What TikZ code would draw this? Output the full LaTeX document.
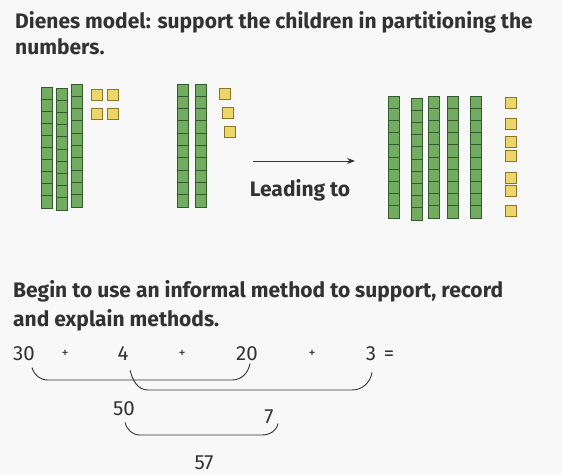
\documentclass[tikz,border=0pt]{standalone}
\usepackage{fontspec}
\setmainfont{Fira Sans}
\usetikzlibrary{arrows.meta}

\definecolor{paper}{RGB}{248,248,248}
\definecolor{ink}{RGB}{50,50,50}
\definecolor{rodfill}{RGB}{114,172,96}
\definecolor{rodline}{RGB}{52,90,46}
\definecolor{cubefill}{RGB}{236,214,104}
\definecolor{cubeline}{RGB}{138,118,38}

\tikzset{
  rodcell/.style={draw=rodline, fill=rodfill, line width=1pt},
  cube/.style={draw=cubeline, fill=cubefill, line width=1pt},
  heading/.style={anchor=base west, inner sep=0pt, text=ink,
    font=\bfseries\fontsize{21}{24}\selectfont},
  sum/.style={anchor=base, inner sep=0pt, text=ink,
    font=\fontsize{20.5}{24}\selectfont},
  plus/.style={sum, font=\fontsize{14}{16}\selectfont},
  bracket/.style={draw=ink, line width=0.9pt},
}

% a ten rod: left x, top y, bottom y
\newcommand{\tenrod}[3]{%
  \foreach \k in {0,...,9}
    \draw[rodcell] (#1,{#2+(#3-#2)*\k/10}) rectangle ({#1+11},{#2+(#3-#2)*(\k+1)/10});
}
% a unit cube: left x, top y
\newcommand{\unitcube}[2]{\draw[cube] (#1,#2) rectangle ({#1+11},{#2+11});}

\begin{document}
\begin{tikzpicture}[x=1pt, y=-1pt]
  \fill[paper] (0,0) rectangle (562,475);

  \node[heading] (title) at (15,28) {Dienes model: support the children in partitioning the};
  \node[heading] (title2) at (15,54) {numbers.};

  % 34
  \tenrod{41}{87}{208}
  \tenrod{56}{88}{210}
  \tenrod{71}{84}{207}
  \unitcube{91}{89}  \unitcube{107}{89}
  \unitcube{91}{108} \unitcube{107}{108}

  % 23
  \tenrod{177}{84}{207}
  \tenrod{195}{84}{207}
  \unitcube{219}{88}
  \unitcube{222}{107}
  \unitcube{224}{126}

  \coordinate (arrstart) at (253,161);
  \coordinate (arrend) at (355,161);
  \draw[ink, line width=0.9pt, -{Stealth[length=8pt,width=6pt]}] (arrstart) -- (arrend);
  \node[heading, anchor=base] (lead) at (300,196) {Leading to};

  % 57
  \tenrod{388}{96}{218}
  \tenrod{411}{98}{220}
  \tenrod{428}{96}{218}
  \tenrod{447}{96}{218}
  \tenrod{470}{96}{218}
  \foreach \y in {97,118,136,150,172,185,205}
    {\unitcube{505}{\y}}

  \node[heading] (method) at (13,297) {Begin to use an informal method to support, record};
  \node[heading] (method2) at (13,326) {and explain methods.};

  \node[sum] (n30) at (24,360) {30};
  \node[plus] (p1) at (65,357) {+};
  \node[sum] (n4) at (123,360) {4};
  \node[plus] (p2) at (182,357) {+};
  \node[sum] (n20) at (247,360) {20};
  \node[plus] (p3) at (312,357) {+};
  \node[sum] (n3) at (371,360) {3};
  \node[sum] (eq) at (389,360) {=};

  \draw[bracket] ([xshift=8pt,yshift=-7pt]n30.south) to[out=-75,in=180] (48,380) -- (232,380)
    to[out=0,in=-100] ([xshift=3pt,yshift=-3pt]n20.south);
  \draw[bracket] ([xshift=7pt,yshift=-10pt]n4.south) to[out=-75,in=180] (148,390) -- (352,390)
    to[out=0,in=-100] ([xshift=1pt,yshift=-12pt]n3.south);

  \node[sum] (n50) at (124,415) {50};
  \node[sum] (n7) at (269,423) {7};
  \draw[bracket] ([xshift=1pt,yshift=-7pt]n50.south) to[out=-75,in=180] (140,435) -- (262,435)
    to[out=0,in=-100] ([xshift=9pt]n7.south);
  \node[sum] (n57) at (204,469) {57};
\end{tikzpicture}
\end{document}
